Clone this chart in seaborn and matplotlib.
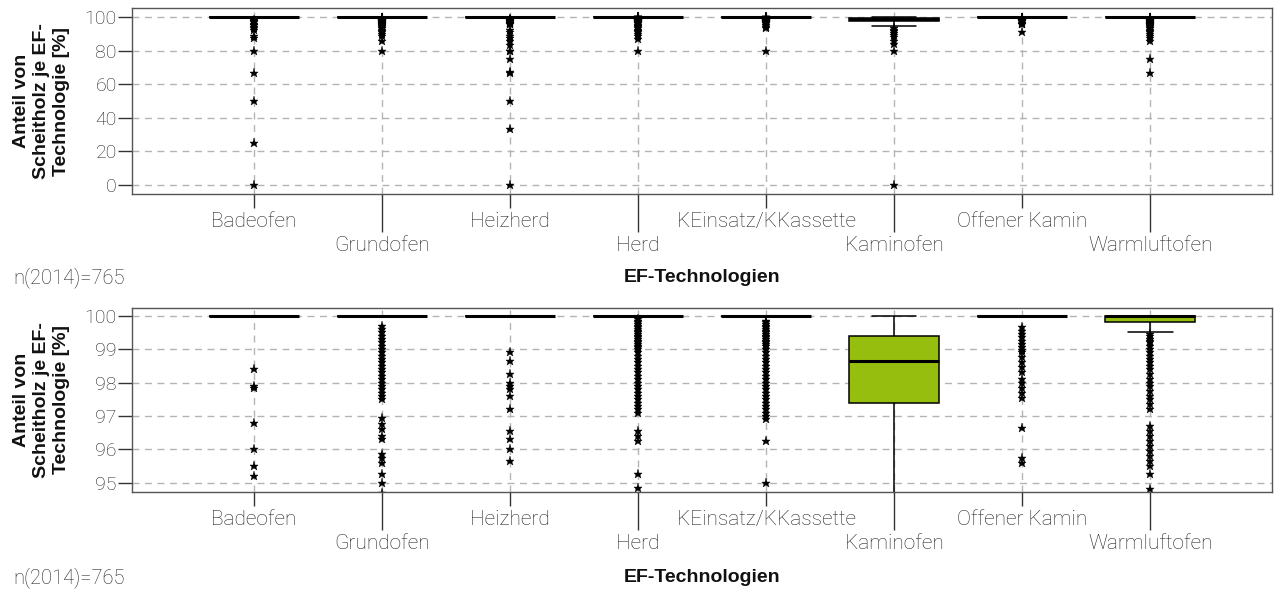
import pandas as pd
import seaborn as sns
import matplotlib.pyplot as plt

# EF-Technologien in plot order
technologies = ['Badeofen', 'Grundofen', 'Heizherd', 'Herd', 'KEinsatz/KKassette',
                'Kaminofen', 'Offener Kamin', 'Warmluftofen']

# shares of Scheitholz below 100 % per technology [%]
badeofen = [0, 25, 50, 66.7, 80, 87.5, 88.9, 92.3, 93.3, 94.1, 95.2, 95.5, 96.0,
            96.8, 97.85, 97.9, 98.4]
grundofen = [80, 85.7, 88.9, 90.0, 90.9, 91.7, 92.3, 93.3, 94.1, 94.7, 95.0, 95.25,
             95.6, 95.75, 95.85, 96.3, 96.4, 96.6, 96.75, 96.95, 97.5, 97.6, 97.7,
             97.8, 97.9, 98.0, 98.1, 98.2, 98.3, 98.4, 98.5, 98.6, 98.7, 98.8, 98.9,
             99.0, 99.1, 99.2, 99.3, 99.4, 99.5, 99.6, 99.7]
heizherd = [0, 33.3, 50, 66.7, 67.5, 75, 80, 80, 83.3, 85.7, 87.5, 88.9, 90.9, 92.3,
            95.65, 96.0, 96.3, 96.55, 97.2, 97.6, 97.8, 97.9, 98.0, 98.25, 98.65, 98.9]
herd = [80, 86.9, 88.9, 90, 90.9, 91.7, 92.3, 93.3, 94.1, 94.85, 95.25, 96.25, 96.4,
        96.55, 97.1, 97.2, 97.3, 97.4, 97.5, 97.6, 97.7, 97.8, 97.9, 98.0, 98.1, 98.2,
        98.3, 98.4, 98.5, 98.6, 98.7, 98.8, 98.9, 99.0, 99.05, 99.1, 99.15, 99.2,
        99.25, 99.3, 99.35, 99.4, 99.45, 99.5, 99.55, 99.6, 99.65, 99.7, 99.75, 99.8,
        99.85, 99.9]
keinsatz = [80, 93.5, 94.2, 95.0, 96.25, 96.9, 97.0, 97.1, 97.2, 97.3, 97.4, 97.5,
            97.6, 97.7, 97.8, 97.9, 98.0, 98.1, 98.2, 98.3, 98.4, 98.5, 98.6, 98.7,
            98.8, 98.9, 99.0, 99.1, 99.15, 99.2, 99.25, 99.3, 99.35, 99.4, 99.45, 99.5,
            99.55, 99.6, 99.65, 99.7, 99.75, 99.8, 99.85]
kaminofen = [0, 80, 84, 86, 88, 89.5, 90.5, 91.5, 92.5, 93.5,
             94.6, 95.4, 96.2, 96.8, 97.2, 97.45,
             97.55, 97.65, 97.75, 97.85, 97.95, 98.0, 98.1, 98.2, 98.3, 98.35, 98.4,
             98.5, 98.55, 98.6,
             98.7, 98.75, 98.8, 98.85, 98.9, 98.95, 99.0, 99.05, 99.1, 99.15, 99.2,
             99.25, 99.3, 99.35, 99.4,
             99.4, 99.5, 99.55, 99.6, 99.7, 99.75, 99.8, 99.85, 99.9]
offener_kamin = [91.3, 95.6, 95.75, 96.65, 97.55, 97.7, 97.85, 98.0, 98.1, 98.3, 98.45,
                 98.6, 98.75, 98.9, 98.97, 99.05, 99.15, 99.25, 99.35, 99.45, 99.55,
                 99.65]
warmluftofen = [66.7, 75.0, 85.7, 87.5, 88.9, 90.0, 90.9, 91.7, 92.3, 93.3, 94.1, 94.8,
                95.25, 95.5, 95.65, 95.8, 95.95, 96.1, 96.25, 96.4, 96.55, 96.7, 97.2,
                97.35, 97.5, 97.6, 97.75, 97.9, 98.0, 98.1, 98.25, 98.4, 98.5, 98.6,
                98.7, 98.8, 98.9, 99.0, 99.1, 99.2, 99.25, 99.3, 99.4, 99.45, 99.5,
                99.56, 99.62, 99.68, 99.72, 99.76, 99.8, 99.85, 99.9, 99.95]

# number of households with exactly 100 % Scheitholz
n_full = [70, 180, 110, 220, 180, 6, 90, 147]

below_full = [badeofen, grundofen, heizherd, herd, keinsatz, kaminofen,
              offener_kamin, warmluftofen]

rows = []
for tech, vals, n in zip(technologies, below_full, n_full):
    rows += [(tech, v) for v in vals]
    rows += [(tech, 100.0)] * n
df = pd.DataFrame(rows, columns=['tech', 'anteil'])

green = '#96be0e'
bold_font = ['Liberation Sans', 'DejaVu Sans']

sns.set_theme(style='whitegrid')
plt.rcParams['font.family'] = ['Roboto', 'DejaVu Sans']
plt.rcParams['font.weight'] = 'light'

fig = plt.figure(figsize=(12.77, 5.90), dpi=100)
ax_top = fig.add_axes([0.1034, 0.671, 0.8926, 0.315])
ax_bot = fig.add_axes([0.1034, 0.166, 0.8926, 0.3125])

panels = [(ax_top, (-5.4, 105.2), [0, 20, 40, 60, 80, 100], 277, 278),
          (ax_bot, (94.72, 100.24), [95, 96, 97, 98, 99, 100], 577, 578)]

pos = list(range(len(technologies)))

for ax, ylim, yticks, xlab_y, n_y in panels:
    sns.boxplot(data=df, x='tech', y='anteil', order=technologies, ax=ax,
                color=green, saturation=1, width=0.7, linecolor='black',
                linewidth=1.1,
                flierprops=dict(marker='*', markerfacecolor='black',
                                markeredgecolor='black', markersize=6.5,
                                markeredgewidth=0.3),
                medianprops=dict(color='black', linewidth=2.2))
    ax.set_xlim(-0.95, 7.95)
    ax.set_ylim(*ylim)
    ax.set_yticks(yticks)
    ax.set_yticklabels([str(t) for t in yticks])

    # even categories as major ticks, odd ones as longer minor ticks (staggered labels)
    ax.set_xticks(pos[::2], labels=technologies[::2])
    ax.set_xticks(pos[1::2], labels=technologies[1::2], minor=True)

    ax.set_axisbelow(True)
    ax.grid(True, which='both', axis='x', color='#b4b4b4', linestyle=(0, (5, 4)),
            linewidth=1)
    ax.grid(True, which='major', axis='y', color='#b4b4b4', linestyle=(0, (5, 4)),
            linewidth=1)
    for s in ax.spines.values():
        s.set_color('#555555')
        s.set_linewidth(1)
    ax.tick_params(axis='y', length=10, width=1, color='#333333', pad=1,
                   labelsize=14, labelcolor='#222222', left=True)
    ax.tick_params(axis='x', which='major', length=10, width=1, color='#333333',
                   pad=3, labelsize=15, labelcolor='#222222', bottom=True)
    ax.tick_params(axis='x', which='minor', length=27, width=1, color='#333333',
                   pad=3, labelsize=15, labelcolor='#222222', bottom=True)
    ax.set_xlabel('')
    ax.set_ylabel('Anteil von\nScheitholz je EF-\nTechnologie [%]', fontsize=14,
                  fontweight='bold', family=bold_font, linespacing=1.25,
                  color='#111111')
    ax.yaxis.set_label_coords(-0.0544, 0.5)

    fig.text(702 / 1277, 1 - xlab_y / 590, 'EF-Technologien', ha='center', va='center',
             fontsize=14, fontweight='bold', family=bold_font, color='#111111')
    fig.text(13 / 1277, 1 - n_y / 590, 'n(2014)=765', ha='left', va='center',
             fontsize=14.5, color='#222222')

fig.savefig('out.png', dpi=100)
